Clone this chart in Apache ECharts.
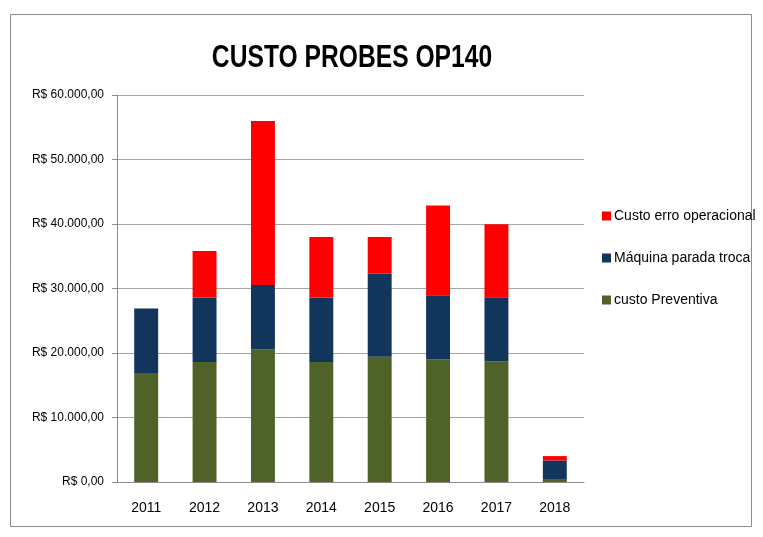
<!DOCTYPE html>
<html>
<head>
<meta charset="utf-8">
<script src="https://cdn.jsdelivr.net/npm/echarts@6/dist/echarts.min.js"></script>
<style>
  html, body { margin: 0; padding: 0; background: #fff; }
  #chart { width: 763px; height: 537px; }
</style>
</head>
<body>
<div id="chart"></div>
<script>
  const years = ['2011', '2012', '2013', '2014', '2015', '2016', '2017', '2018'];
  const preventiva = [16900, 18600, 20600, 18600, 19400, 19000, 18700, 460];
  const maquinaParada = [10000, 10000, 9950, 10000, 12900, 9950, 9950, 2880];
  const erroOperacional = [0, 7200, 25400, 9400, 5700, 13900, 11300, 680];

  const font = '"Liberation Sans", Arial, sans-serif';

  const brl = (v) => {
    const s = Math.round(v).toString().replace(/\B(?=(\d{3})+(?!\d))/g, '.');
    return 'R$ ' + s + ',00';
  };

  const chart = echarts.init(document.getElementById('chart'));

  const option = {
    animation: false,
    legend: {
      orient: 'vertical',
      left: 597,
      top: 204,
      itemWidth: 9,
      itemHeight: 9,
      itemGap: 28,
      icon: 'rect',
      textStyle: { fontFamily: font, fontSize: 14, color: '#000', padding: [0, 0, 0, -2] },
      data: ['Custo erro operacional', 'Máquina parada troca', 'custo Preventiva']
    },
    grid: { left: 117, right: 179, top: 95, bottom: 55 },
    xAxis: {
      type: 'category',
      data: years,
      axisLine: { lineStyle: { color: '#8c8c8c' } },
      axisTick: { length: 6, lineStyle: { color: '#8c8c8c' } },
      axisLabel: { fontFamily: font, fontSize: 14, color: '#000', margin: 19 }
    },
    yAxis: {
      type: 'value',
      min: 0,
      max: 60000,
      interval: 10000,
      axisLine: { show: true, lineStyle: { color: '#8c8c8c' } },
      axisTick: { show: true, length: 5, lineStyle: { color: '#8c8c8c' } },
      axisLabel: { fontFamily: font, fontSize: 12, color: '#000', margin: 13, formatter: brl },
      splitLine: { lineStyle: { color: '#a6a6a6', width: 1 } }
    },
    series: [
      {
        name: 'custo Preventiva', type: 'bar', stack: 'total',
        data: preventiva, barCategoryGap: '59%',
        itemStyle: { color: '#4f6228' }
      },
      {
        name: 'Máquina parada troca', type: 'bar', stack: 'total',
        data: maquinaParada,
        itemStyle: { color: '#12355b' }
      },
      {
        name: 'Custo erro operacional', type: 'bar', stack: 'total',
        data: erroOperacional,
        itemStyle: { color: '#ff0000' }
      }
    ],
    graphic: [
      {
        type: 'rect',
        shape: { x: 10.5, y: 14.5, width: 741, height: 512 },
        style: { fill: 'none', stroke: '#8c8c8c', lineWidth: 1 },
        silent: true
      },
      {
        // title, squeezed horizontally to look like a condensed font
        type: 'text',
        x: 352,
        y: 58,
        scaleX: 0.77,
        style: {
          text: 'CUSTO PROBES OP140',
          fontFamily: font,
          fontSize: 32,
          fontWeight: 'bold',
          fill: '#000',
          align: 'center',
          verticalAlign: 'middle'
        },
        silent: true
      }
    ]
  };

  chart.setOption(option);
</script>
</body>
</html>
